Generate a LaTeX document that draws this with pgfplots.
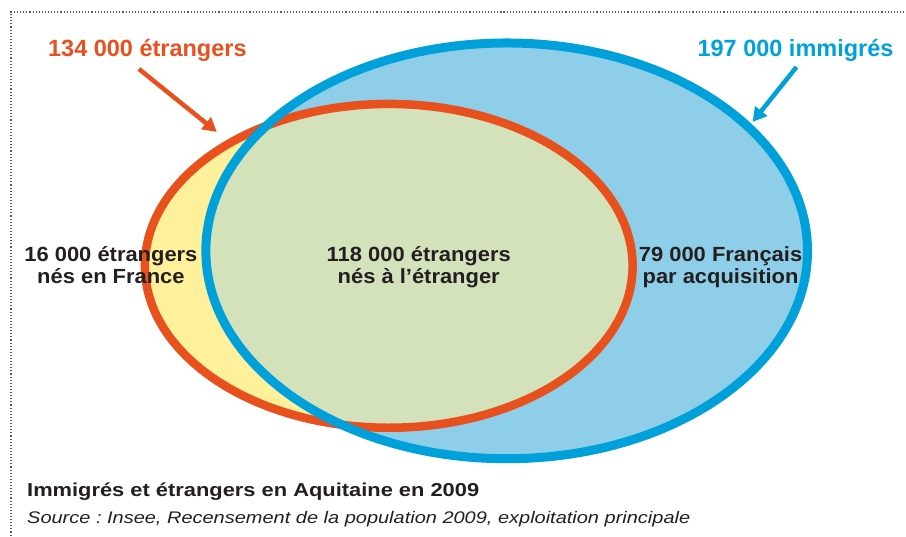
\documentclass[border=0pt]{standalone}
\usepackage{pgfplots}
\pgfplotsset{compat=1.18}
\usepackage{fontspec}
\setmainfont{Liberation Sans}
\usetikzlibrary{arrows.meta}
\definecolor{orangeC}{RGB}{232,80,30}
\definecolor{blueC}{RGB}{0,160,218}
\definecolor{lightblueC}{RGB}{142,206,232}
\definecolor{yellowC}{RGB}{255,240,155}
\definecolor{greenC}{RGB}{211,226,187}
\definecolor{textC}{RGB}{35,31,32}
\newcommand{\lab}[1]{\scalebox{1.07}[1]{\bfseries\fontsize{20.5}{24}\selectfont #1}}
\frenchspacing
\begin{document}
\begin{tikzpicture}
\begin{axis}[
  width=906pt, height=536pt, scale only axis,
  xmin=0, xmax=906, ymin=0, ymax=536,
  y dir=reverse, hide axis, clip=false,
]
\path (rel axis cs:0,0) rectangle (rel axis cs:1,1);
% frame
\draw[black!65, line width=1.1pt, dash pattern=on 1.1pt off 2pt]
  (axis cs:11,536) -- (axis cs:11,12) -- (axis cs:906,12);
% fills
\fill[lightblueC] (axis cs:507,251) ellipse [x radius=301, y radius=208];
\fill[yellowC] (axis cs:389,266) ellipse [x radius=244, y radius=162];
\begin{scope}
  \clip (axis cs:507,251) ellipse [x radius=301, y radius=208];
  \fill[greenC] (axis cs:389,266) ellipse [x radius=244, y radius=162];
\end{scope}
% outlines
\draw[orangeC, line width=8.5pt] (axis cs:389,266) ellipse [x radius=244, y radius=162];
\draw[blueC, line width=9pt] (axis cs:507,251) ellipse [x radius=301, y radius=208];
% arrows
\draw[orangeC, line width=4.5pt, -{Triangle[length=14pt,width=15pt]}]
  (axis cs:139,69) -- (axis cs:217,132);
\draw[blueC, line width=4.5pt, -{Triangle[length=14pt,width=15pt]}]
  (axis cs:797,67) -- (axis cs:753,122);
% titles
\node[anchor=base, text=orangeC, font=\bfseries\fontsize{23.5}{28}\selectfont]
  at (axis cs:147.5,57) {134 000 étrangers};
\node[anchor=base, text=blueC, font=\bfseries\fontsize{23.5}{28}\selectfont]
  at (axis cs:796,57) {197 000 immigrés};
% labels
\node[anchor=base, text=textC, inner sep=0pt] at (axis cs:111,262) {\lab{16 000 étrangers}};
\node[anchor=base, text=textC, inner sep=0pt] at (axis cs:111,284) {\lab{nés en France}};
\node[anchor=base, text=textC, inner sep=0pt] at (axis cs:419,262) {\lab{118 000 étrangers}};
\node[anchor=base, text=textC, inner sep=0pt] at (axis cs:419,284) {\lab{nés à l’étranger}};
\node[anchor=base, text=textC, inner sep=0pt] at (axis cs:721,262) {\lab{79 000 Français}};
\node[anchor=base, text=textC, inner sep=0pt] at (axis cs:721,284) {\lab{par acquisition}};
% caption
\node[anchor=base west, text=textC, inner sep=0pt] at (axis cs:27,497)
  {\scalebox{1.17}[1]{\bfseries\fontsize{18.7}{22}\selectfont Immigrés et étrangers en Aquitaine en 2009}};
\node[anchor=base west, text=textC, inner sep=0pt] at (axis cs:27,524)
  {\scalebox{1.19}[1]{\itshape\fontsize{16.8}{20}\selectfont Source : Insee, Recensement de la population 2009, exploitation principale}};
\end{axis}
\end{tikzpicture}
\end{document}
